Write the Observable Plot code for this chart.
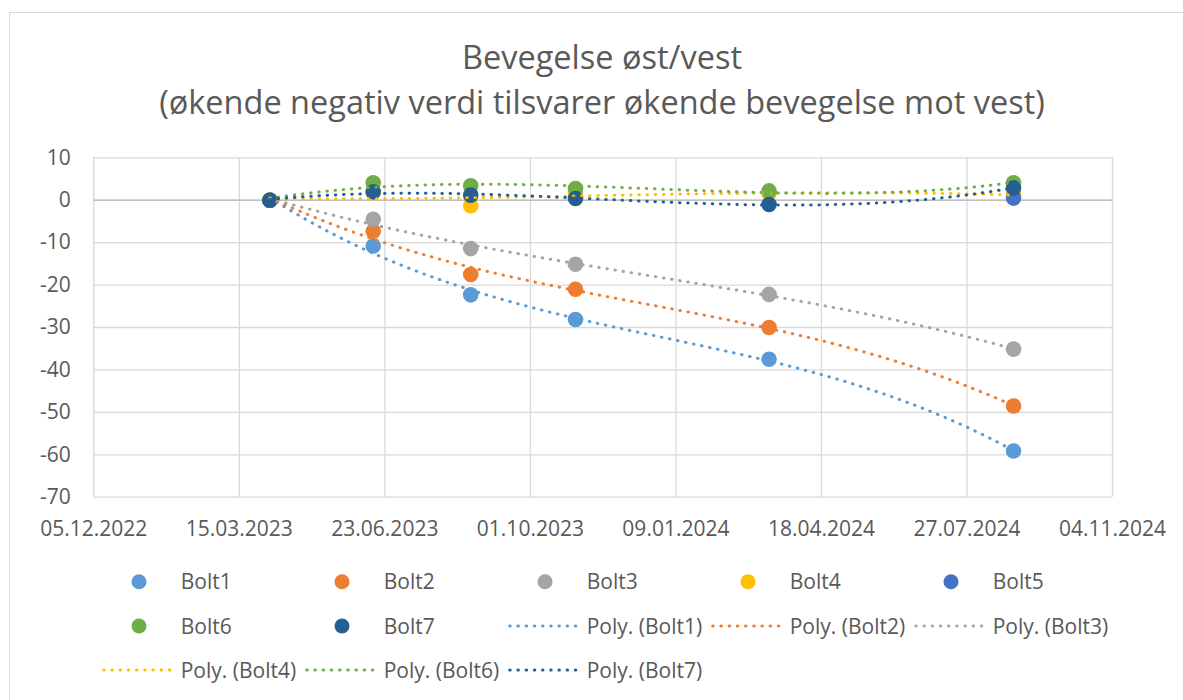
<!DOCTYPE html>
<html>
<head>
<meta charset="utf-8">
<script src="https://cdn.jsdelivr.net/npm/d3@7"></script>
<script src="https://cdn.jsdelivr.net/npm/@observablehq/plot@0.6"></script>
<style>
  html, body { margin: 0; padding: 0; background: #ffffff; }
  #wrap { position: relative; width: 1183px; height: 700px; overflow: hidden; font-family: "Open Sans", sans-serif; color: #595959; }
  #frame { position: absolute; left: 9px; top: 12px; width: 1200px; height: 720px; border: 1.3px solid #d9d9d9; box-sizing: border-box; }
  .title { position: absolute; left: 0; width: 1204px; text-align: center; font-size: 32.5px; line-height: 32.5px; white-space: nowrap; }
  #chart { position: absolute; left: 0; top: 0; }
  #legend { position: absolute; left: 0; top: 0; }
</style>
</head>
<body>
<div id="wrap">
  <div id="frame"></div>
  <div class="title" style="top:41px">Bevegelse øst/vest</div>
  <div class="title" style="top:85.5px">(økende negativ verdi tilsvarer økende bevegelse mot vest)</div>
  <div id="chart"></div>
  <svg id="legend" width="1183" height="700"></svg>
</div>
<script>
// ---- data ----
const dates = ["2023-04-05", "2023-06-15", "2023-08-21", "2023-11-01", "2024-03-13", "2024-08-28"];
const seriesNames = ["Bolt1", "Bolt2", "Bolt3", "Bolt4", "Bolt5", "Bolt6", "Bolt7"];
const seriesColors = ["#5B9BD5", "#ED7D31", "#A5A5A5", "#FFC000", "#4472C4", "#70AD47", "#255E91"];
const bolt1 = [0, -10.8, -22.3, -28.1, -37.5, -59.1];
const bolt2 = [0, -7.3, -17.5, -21.0, -30.0, -48.5];
const bolt3 = [0, -4.5, -11.4, -15.1, -22.2, -35.1];
const bolt4 = [0, 1.8, -1.3, 1.9, 1.6, 1.2];
const bolt5 = [0, null, null, null, null, 0.5];
const bolt6 = [0, 4.1, 3.4, 2.75, 2.2, 4.1];
const bolt7 = [0, 2.0, 1.2, 0.4, -1.0, 2.9];
const trendSeries = ["Bolt1", "Bolt2", "Bolt3", "Bolt4", "Bolt6", "Bolt7"];
const xTickLabels = ["2022-12-05", "2023-03-15", "2023-06-23", "2023-10-01", "2024-01-09", "2024-04-18", "2024-07-27", "2024-11-04"];
const yTicks = [10, 0, -10, -20, -30, -40, -50, -60, -70];
const legendRows = [
  [["dot", "Bolt1"], ["dot", "Bolt2"], ["dot", "Bolt3"], ["dot", "Bolt4"], ["dot", "Bolt5"]],
  [["dot", "Bolt6"], ["dot", "Bolt7"], ["line", "Bolt1"], ["line", "Bolt2"], ["line", "Bolt3"]],
  [["line", "Bolt4"], ["line", "Bolt6"], ["line", "Bolt7"]]
];

// ---- build tables ----
const parse = d3.utcParse("%Y-%m-%d");
const values = [bolt1, bolt2, bolt3, bolt4, bolt5, bolt6, bolt7];
const points = [];
seriesNames.forEach((s, i) => {
  values[i].forEach((v, j) => {
    if (v !== null) points.push({series: s, date: parse(dates[j]), value: v});
  });
});

// polynomial (order 3) least-squares trendline, like Excel's "Poly." trendline
function polyfit(xs, ys, order) {
  const n = order + 1;
  const A = Array.from({length: n}, () => new Array(n + 1).fill(0));
  for (let k = 0; k < xs.length; k++) {
    for (let r = 0; r < n; r++) {
      for (let c = 0; c < n; c++) A[r][c] += Math.pow(xs[k], r + c);
      A[r][n] += ys[k] * Math.pow(xs[k], r);
    }
  }
  for (let i = 0; i < n; i++) {
    let p = i;
    for (let r = i + 1; r < n; r++) if (Math.abs(A[r][i]) > Math.abs(A[p][i])) p = r;
    [A[i], A[p]] = [A[p], A[i]];
    for (let r = 0; r < n; r++) {
      if (r === i) continue;
      const f = A[r][i] / A[i][i];
      for (let c = i; c <= n; c++) A[r][c] -= f * A[i][c];
    }
  }
  return A.map((row, i) => row[n] / row[i]);
}
const t0 = parse(dates[0]).getTime();
const dayMs = 864e5;
const trend = [];
trendSeries.forEach(s => {
  const pts = points.filter(p => p.series === s);
  const xs = pts.map(p => (p.date.getTime() - t0) / dayMs / 100);
  const ys = pts.map(p => p.value);
  const coef = polyfit(xs, ys, 3);
  const x0 = d3.min(xs), x1 = d3.max(xs);
  const N = 300;
  for (let i = 0; i <= N; i++) {
    const x = x0 + (x1 - x0) * i / N;
    const y = coef.reduce((acc, c, k) => acc + c * Math.pow(x, k), 0);
    trend.push({series: s, date: new Date(t0 + x * 100 * dayMs), value: y});
  }
});

const xTicks = xTickLabels.map(parse);
const fmt = d3.utcFormat("%d.%m.%Y");
const dotted = {strokeWidth: 3, strokeDasharray: "0.5,7.7", strokeLinecap: "round"};

const chart = Plot.plot({
  width: 1183,
  height: 560,
  marginLeft: 93.3,
  marginRight: 71,
  marginTop: 157.3,
  marginBottom: 63.3,
  style: {fontFamily: "Open Sans, sans-serif", fontSize: "21px", color: "#595959", background: "transparent", overflow: "visible"},
  x: {type: "utc", domain: [xTicks[0], xTicks[xTicks.length - 1]]},
  y: {domain: [-70, 10]},
  color: {domain: seriesNames, range: seriesColors},
  marks: [
    Plot.gridX(xTicks, {stroke: "#d9d9d9", strokeOpacity: 1, strokeWidth: 1.3}),
    Plot.gridY(yTicks, {stroke: "#d9d9d9", strokeOpacity: 1, strokeWidth: 1.3}),
    Plot.ruleY([0], {stroke: "#bfbfbf", strokeWidth: 1.6}),
    Plot.axisX(xTicks, {tickSize: 0, tickPadding: 23.6, tickFormat: fmt, fill: "#595959", fontSize: 21, label: null}),
    Plot.axisY(yTicks, {tickSize: 0, tickPadding: 23, tickFormat: d => String(d), fill: "#595959", fontSize: 21, label: null}),
    Plot.dot(points, {x: "date", y: "value", fill: "series", r: 7.8, stroke: null}),
    Plot.line(trend, {x: "date", y: "value", z: "series", stroke: "series", ...dotted})
  ]
});
document.getElementById("chart").appendChild(chart);

// ---- legend ----
const colorOf = s => seriesColors[seriesNames.indexOf(s)];
const lg = d3.select("#legend");
const rowY = [581.7, 626, 670];
const colText = [180.7, 383.7, 586.7, 789.7, 992.7];
legendRows.forEach((row, ri) => {
  row.forEach(([kind, s], ci) => {
    const tx = colText[ci], cy = rowY[ri];
    if (kind === "dot") {
      lg.append("circle").attr("cx", tx - 41.7).attr("cy", cy).attr("r", 7.5).attr("fill", colorOf(s));
    } else {
      lg.append("line").attr("x1", tx - 77).attr("x2", tx - 9).attr("y1", cy).attr("y2", cy)
        .attr("stroke", colorOf(s)).attr("stroke-width", 3).attr("stroke-dasharray", "0.5,7.7").attr("stroke-linecap", "round");
    }
    lg.append("text").attr("x", tx).attr("y", cy + 7.5)
      .attr("font-family", "Open Sans, sans-serif").attr("font-size", 21).attr("fill", "#595959")
      .text(kind === "dot" ? s : `Poly. (${s})`);
  });
});
</script>
</body>
</html>
